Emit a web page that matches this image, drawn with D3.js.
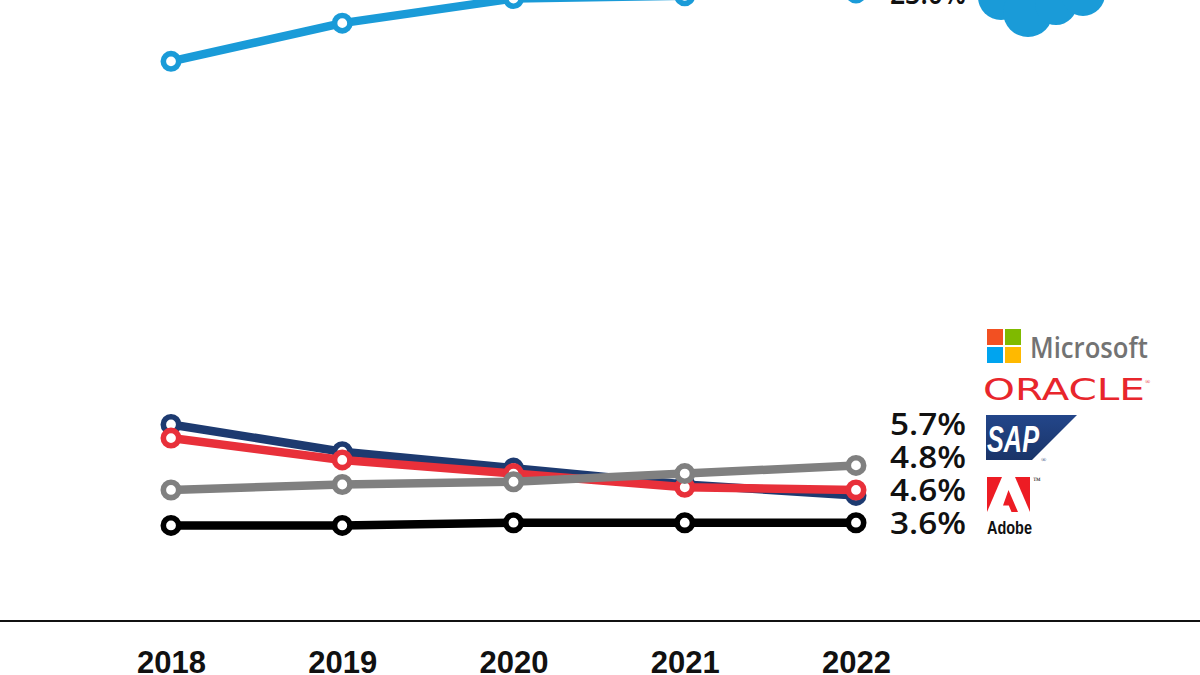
<!DOCTYPE html>
<html>
<head>
<meta charset="utf-8">
<script src="https://cdn.jsdelivr.net/npm/d3@7"></script>
<style>
  html, body { margin: 0; padding: 0; background: #fff; }
  svg { display: block; }
</style>
</head>
<body>
<svg id="chart" width="1200" height="675"></svg>
<script>
// market share (%) by vendor
var years = [2018, 2019, 2020, 2021, 2022];
var salesforce = [20.5, 21.9, 22.8, 22.9, 23.0];
var sap = [7.2, 6.2, 5.6, 5.0, 4.6];
var oracle = [6.7, 5.9, 5.4, 4.9, 4.8];
var microsoft = [4.8, 5.0, 5.1, 5.4, 5.7];
var adobe = [3.5, 3.5, 3.6, 3.6, 3.6];

var vendors = ["SAP", "Oracle", "Microsoft", "Adobe", "Salesforce"];
var values = [sap, oracle, microsoft, adobe, salesforce];
var colors = ["#1d3a70", "#e8303a", "#808080", "#000000", "#1a9bd8"];

var series = vendors.map(function(v, i) {
  return { name: v, color: colors[i], points: years.map(function(y, j) { return { year: y, value: values[i][j] }; }) };
});

var svg = d3.select("#chart");
var width = 1200, height = 675;

var x = d3.scaleLinear().domain([2018, 2022]).range([171, 856]);
var y = d3.scaleLinear().domain([0, 25]).range([621, 621 - 25 * 27.3]);

// baseline across the whole picture
svg.append("line")
  .attr("x1", 0).attr("x2", width)
  .attr("y1", y(0)).attr("y2", y(0))
  .attr("stroke", "#111").attr("stroke-width", 2);

var xAxis = svg.append("g")
  .attr("transform", "translate(0," + y(0) + ")")
  .call(d3.axisBottom(x).tickValues(years).tickFormat(d3.format("d")).tickSize(0));
xAxis.select(".domain").remove();
xAxis.selectAll("text")
  .attr("y", 52).attr("dy", 0)
  .attr("fill", "#111")
  .style("font-family", "'Liberation Sans', Arial, sans-serif")
  .style("font-weight", "bold")
  .style("font-size", "31px");

var line = d3.line()
  .x(function(d) { return x(d.year); })
  .y(function(d) { return y(d.value); });

var groups = svg.append("g")
  .selectAll("g")
  .data(series)
  .enter().append("g");

groups.append("path")
  .attr("d", function(d) { return line(d.points); })
  .attr("fill", "none")
  .attr("stroke", function(d) { return d.color; })
  .attr("stroke-width", 8.5)
  .attr("stroke-linejoin", "round");

groups.selectAll("circle")
  .data(function(d) { return d.points.map(function(p) { return { p: p, color: d.color }; }); })
  .enter().append("circle")
  .attr("cx", function(d) { return x(d.p.year); })
  .attr("cy", function(d) { return y(d.p.value); })
  .attr("r", 7.7)
  .attr("fill", "#fff")
  .attr("stroke", function(d) { return d.color; })
  .attr("stroke-width", 5.6);

// end labels, pushed apart so they don't collide
var ends = series.map(function(s) {
  var last = s.points[s.points.length - 1];
  return { value: last.value, ly: y(last.value) };
}).sort(function(a, b) { return a.value - b.value; });
for (var i = 1; i < ends.length; i++) {
  if (ends[i - 1].ly - ends[i].ly < 33) ends[i].ly = ends[i - 1].ly - 33;
}

svg.append("g")
  .selectAll("text")
  .data(ends)
  .enter().append("text")
  .attr("x", 966)
  .attr("y", function(d) { return d.ly; })
  .attr("dy", "0.36em")
  .attr("text-anchor", "end")
  .attr("fill", "#111")
  .style("font-family", "'Open Sans', sans-serif")
  .style("font-weight", 600)
  .style("font-size", "31px")
  .attr("textLength", 76).attr("lengthAdjust", "spacingAndGlyphs")
  .text(function(d) { return d3.format(".1f")(d.value) + "%"; });

// logos
var logos = svg.append("g");

// salesforce cloud (cut off at the top)
var cloud = [[1001, -3, 23], [1028, 12, 25], [1056, 4, 21], [1083, -6, 22]];
logos.selectAll(".cloud")
  .data(cloud)
  .enter().append("circle")
  .attr("cx", function(d) { return d[0]; })
  .attr("cy", function(d) { return d[1]; })
  .attr("r", function(d) { return d[2]; })
  .attr("fill", "#1a9bd8");

// microsoft
var ms = [["#f25022", 0, 0], ["#7fba00", 1, 0], ["#00a4ef", 0, 1], ["#ffb900", 1, 1]];
logos.selectAll(".ms")
  .data(ms)
  .enter().append("rect")
  .attr("x", function(d) { return 987 + d[1] * 18; })
  .attr("y", function(d) { return 329 + d[2] * 18; })
  .attr("width", 16).attr("height", 16)
  .attr("fill", function(d) { return d[0]; });
logos.append("text")
  .attr("x", 1030).attr("y", 358)
  .attr("fill", "#737373")
  .style("font-family", "'Open Sans', sans-serif")
  .style("font-weight", 600)
  .style("font-size", "29px")
  .attr("textLength", 118).attr("lengthAdjust", "spacingAndGlyphs")
  .text("Microsoft");

// oracle
logos.append("text")
  .attr("x", 983).attr("y", 400)
  .attr("fill", "#e8262c")
  .style("font-family", "'DejaVu Sans', sans-serif")
  .style("font-size", "30px")
  .attr("textLength", 162).attr("lengthAdjust", "spacingAndGlyphs")
  .text("ORACLE");
logos.append("text")
  .attr("x", 1145).attr("y", 384)
  .attr("fill", "#e8262c")
  .style("font-size", "7px")
  .text("®");

// sap
var sapGrad = svg.append("defs").append("linearGradient")
  .attr("id", "sapGrad").attr("x1", 0).attr("y1", 0).attr("x2", 0).attr("y2", 1);
sapGrad.append("stop").attr("offset", "0%").attr("stop-color", "#23468a");
sapGrad.append("stop").attr("offset", "100%").attr("stop-color", "#1a3468");
logos.append("polygon")
  .attr("points", "986,415 1077,415 1032,460 986,460")
  .attr("fill", "url(#sapGrad)");
logos.append("text")
  .attr("x", 987).attr("y", 452)
  .attr("fill", "#fff")
  .style("font-family", "'Liberation Sans', Arial, sans-serif")
  .style("font-weight", "bold")
  .style("font-style", "italic")
  .style("font-size", "36px")
  .attr("textLength", 52).attr("lengthAdjust", "spacingAndGlyphs")
  .text("SAP");
logos.append("text")
  .attr("x", 1041).attr("y", 462)
  .attr("fill", "#1d3a70")
  .style("font-size", "7px")
  .text("®");

// adobe
var ax = 987, ay = 477;
var adobeShapes = [
  [[0, 0], [15, 0], [0, 35]],
  [[28, 0], [43, 0], [43, 35]],
  [[21.5, 13], [31, 35], [24.5, 35], [21.8, 28.5], [16, 28.5]]
];
logos.selectAll(".adobe")
  .data(adobeShapes)
  .enter().append("polygon")
  .attr("points", function(d) { return d.map(function(p) { return (ax + p[0]) + "," + (ay + p[1]); }).join(" "); })
  .attr("fill", "#ed1c24");
logos.append("text")
  .attr("x", 1033).attr("y", 483)
  .attr("fill", "#111")
  .style("font-size", "8px")
  .text("™");
logos.append("text")
  .attr("x", 987).attr("y", 534)
  .attr("fill", "#111")
  .style("font-family", "'Liberation Sans Narrow', 'Liberation Sans', sans-serif")
  .style("font-weight", "bold")
  .style("font-size", "19px")
  .attr("textLength", 45).attr("lengthAdjust", "spacingAndGlyphs")
  .text("Adobe");
</script>
</body>
</html>
